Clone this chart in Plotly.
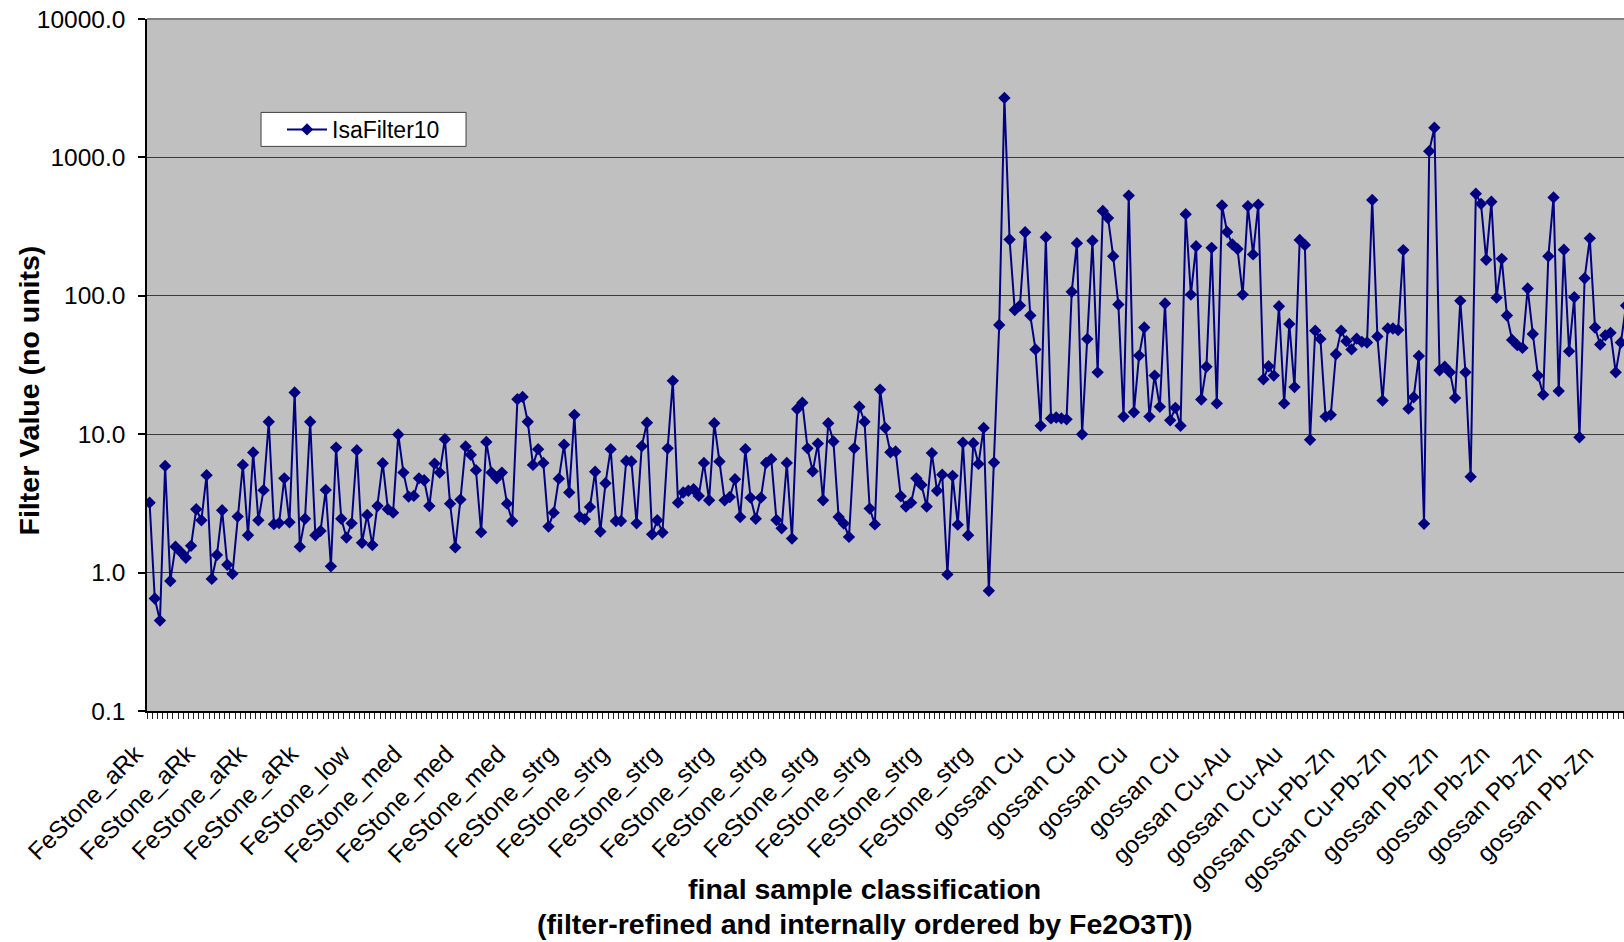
import plotly.graph_objects as go

# Filter values per sample (in display order)
isa_filter10 = [
    3.2, 0.65, 0.45, 5.9, 0.87, 1.54, 1.41, 1.28, 1.56, 2.87,
    2.39, 5.06, 0.90, 1.34, 2.82, 1.14, 0.98, 2.54, 6.0, 1.86,
    7.37, 2.39, 3.94, 12.3, 2.24, 2.28, 4.8, 2.31, 20.0, 1.54,
    2.45, 12.3, 1.86, 2.0, 3.96, 1.11, 8.0, 2.45, 1.79, 2.27,
    7.67, 1.64, 2.61, 1.58, 3.03, 6.17, 2.87, 2.71, 9.95, 5.28,
    3.54, 3.58, 4.8, 4.65, 3.03, 6.13, 5.28, 9.2, 3.15, 1.52,
    3.37, 8.15, 7.1, 5.5, 1.96, 8.8, 5.28, 4.8, 5.28, 3.15,
    2.36, 17.9, 18.6, 12.3, 6.0, 7.8, 6.2, 2.15, 2.71, 4.77,
    8.4, 3.79, 13.8, 2.54, 2.43, 2.98, 5.35, 1.98, 4.42, 7.8,
    2.36, 2.36, 6.4, 6.35, 2.27, 8.2, 12.1, 1.89, 2.39, 1.95,
    7.9, 24.3, 3.2, 3.79, 3.9, 4.0, 3.58, 6.2, 3.33, 12.0,
    6.35, 3.33, 3.52, 4.73, 2.52, 7.8, 3.48, 2.45, 3.48, 6.2,
    6.6, 2.4, 2.09, 6.2, 1.76, 15.2, 16.9, 7.9, 5.4, 8.55,
    3.33, 12.0, 8.85, 2.52, 2.26, 1.81, 7.9, 15.8, 12.3, 2.9,
    2.23, 21.0, 11.1, 7.4, 7.5, 3.56, 3.0, 3.2, 4.8, 4.3,
    3.0, 7.3, 3.9, 5.1, 0.97, 5.0, 2.22, 8.7, 1.86, 8.6,
    6.1, 11.1, 0.74, 6.25, 61.5, 2690.0, 255.0, 79.0, 85.0, 288.0,
    72.0, 41.0, 11.5, 265.0, 13.0, 13.2, 13.0, 12.8, 107.0, 240.0,
    10.0, 48.7, 250.0, 28.0, 410.0, 365.0, 193.0, 86.5, 13.4, 530.0,
    14.4, 37.0, 59.0, 13.4, 26.5, 15.8, 88.0, 12.6, 15.5, 11.5,
    389.0, 102.0, 228.0, 17.8, 30.7, 222.0, 16.7, 449.0, 289.0, 235.0,
    218.0, 102.0, 445.0, 199.0, 456.0, 24.9, 31.0, 26.5, 84.0, 16.7,
    62.5, 21.9, 253.0, 233.0, 9.1, 56.0, 48.8, 13.4, 13.8, 37.8,
    56.0, 47.0, 41.0, 49.0, 46.5, 46.0, 493.0, 50.8, 17.5, 58.0,
    58.0, 56.6, 214.0, 15.3, 18.5, 36.7, 2.25, 1110.0, 1640.0, 29.0,
    30.7, 28.0, 18.3, 92.0, 28.0, 4.93, 546.0, 462.0, 182.0, 478.0,
    97.0, 185.0, 72.0, 48.0, 44.0, 42.0, 113.0, 53.0, 26.5, 19.3,
    193.0, 514.0, 20.5, 215.0, 39.7, 97.6, 9.5, 134.0, 260.0, 59.0,
    44.5, 51.8, 54.0, 28.0, 46.0, 85.0,
]
sample_index = list(range(1, len(isa_filter10) + 1))

# Category labels shown on the x axis (every 10th sample)
label_positions = list(range(1, 282, 10))
label_texts = (
    ["FeStone_aRk"] * 4 + ["FeStone_low"] + ["FeStone_med"] * 3
    + ["FeStone_strg"] * 9 + ["gossan Cu"] * 4 + ["gossan Cu-Au"] * 2
    + ["gossan Cu-Pb-Zn"] * 2 + ["gossan Pb-Zn"] * 4
)

y_tickvals = [0.1, 1, 10, 100, 1000, 10000]
y_ticktext = ["0.1", "1.0", "10.0", "100.0", "1000.0", "10000.0"]

FONT = "Liberation Sans, Arial, sans-serif"
NAVY = "#000080"

fig = go.Figure()
fig.add_trace(go.Scatter(
    x=sample_index, y=isa_filter10, mode="lines+markers", name="IsaFilter10",
    line=dict(color=NAVY, width=2),
    marker=dict(symbol="diamond", size=9.5, color=NAVY),
))

fig.update_layout(
    width=1624, height=942,
    margin=dict(l=147, r=0, t=19, b=231),
    paper_bgcolor="white", plot_bgcolor="#C0C0C0",
    font=dict(family=FONT, size=24, color="black"),
    showlegend=True,
    legend=dict(
        x=0.0914, y=0.8404, xanchor="left", yanchor="middle",
        bgcolor="rgba(0,0,0,0)", borderwidth=0,
        font=dict(family=FONT, size=23, color="black"),
        itemwidth=40, tracegroupgap=0,
    ),
)

fig.update_xaxes(
    range=[0.5, 285.6],
    tickmode="array", tickvals=label_positions, ticktext=label_texts,
    tickangle=-45, ticks="", ticklabelstandoff=17, ticklabelshift=-14,
    tickfont=dict(family=FONT, size=24.5, color="black"),
    showgrid=False, zeroline=False,
    showline=True, linecolor="black", linewidth=1.5,
    minor=dict(ticks="outside", tickmode="linear", tick0=0.5, dtick=1,
               ticklen=6, tickcolor="#222222", tickwidth=1, showgrid=False),
)

fig.update_yaxes(
    type="log", range=[-1, 4],
    tickmode="array", tickvals=y_tickvals, ticktext=y_ticktext,
    ticks="outside", ticklen=7, tickcolor="black", tickwidth=1.5,
    ticklabelstandoff=8,
    tickfont=dict(family=FONT, size=24.5, color="black"),
    showgrid=True, gridcolor="#3a3a3a", gridwidth=1.2,
    zeroline=False, showline=True, linecolor="black", linewidth=1.5,
)

# top border of plot area (grey, as in the original)
fig.add_shape(type="line", xref="paper", yref="paper", x0=0, x1=1, y0=1, y1=1,
              line=dict(color="#808080", width=2))
# legend frame
fig.add_shape(type="rect", xref="paper", yref="paper",
              x0=0.0772, x1=0.2160, y0=0.8159, y1=0.8650, layer="above",
              fillcolor="white", line=dict(color="#404040", width=1))

# axis titles
fig.add_annotation(text="<b>Filter Value (no units)</b>", xref="paper", yref="paper",
                   x=-0.0799, y=0.4632, xanchor="center", yanchor="middle",
                   textangle=-90, showarrow=False,
                   font=dict(family=FONT, size=28.5, color="black"))
fig.add_annotation(text="<b>final sample classification</b>", xref="paper", yref="paper",
                   x=0.4861, y=-0.2575, xanchor="center", yanchor="middle",
                   showarrow=False, font=dict(family=FONT, size=28.5, color="black"))
fig.add_annotation(text="<b>(filter-refined and internally ordered by Fe2O3T))</b>",
                   xref="paper", yref="paper",
                   x=0.4861, y=-0.3071, xanchor="center", yanchor="middle",
                   showarrow=False, font=dict(family=FONT, size=28.5, color="black"))

fig.write_html("out.html")
